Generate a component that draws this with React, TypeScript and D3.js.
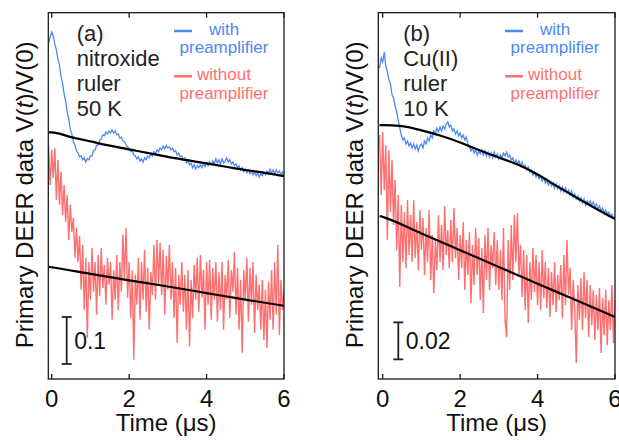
import React from 'react';
import * as d3 from 'd3';

// ---------- data ----------
const T0 = -0.08;
const DT = 0.04;
const xTicks = [0, 2, 4, 6];

// Panel (a) nitroxide ruler, 50 K
const blueA = [
  0.985, 0.998, 1.009, 1.000, 0.983, 0.971, 0.951, 0.939, 0.915, 0.900,
  0.877, 0.862, 0.839, 0.824, 0.802, 0.792, 0.775, 0.768, 0.756, 0.751,
  0.743, 0.745, 0.737, 0.741, 0.732, 0.739, 0.737, 0.745, 0.745, 0.756,
  0.758, 0.768, 0.768, 0.779, 0.781, 0.790, 0.788, 0.796, 0.792, 0.798,
  0.794, 0.800, 0.794, 0.798, 0.790, 0.792, 0.783, 0.785, 0.777, 0.775,
  0.768, 0.764, 0.760, 0.754, 0.756, 0.747, 0.745, 0.739, 0.743, 0.734,
  0.739, 0.732, 0.741, 0.737, 0.745, 0.741, 0.749, 0.745, 0.754, 0.749,
  0.758, 0.754, 0.762, 0.758, 0.766, 0.760, 0.768, 0.762, 0.764, 0.758,
  0.762, 0.754, 0.756, 0.747, 0.751, 0.743, 0.745, 0.737, 0.741, 0.730,
  0.734, 0.726, 0.730, 0.720, 0.726, 0.717, 0.724, 0.720, 0.726, 0.720,
  0.728, 0.722, 0.730, 0.724, 0.732, 0.726, 0.734, 0.728, 0.739, 0.730,
  0.737, 0.728, 0.739, 0.730, 0.734, 0.741, 0.732, 0.737, 0.728, 0.732,
  0.724, 0.728, 0.720, 0.724, 0.715, 0.720, 0.711, 0.717, 0.709, 0.715,
  0.707, 0.713, 0.705, 0.711, 0.703, 0.709, 0.700, 0.707, 0.703, 0.711,
  0.705, 0.713, 0.707, 0.717, 0.709, 0.715, 0.707, 0.715, 0.709, 0.713,
  0.705, 0.711, 0.703,
];
const redA = [
  0.768, 0.683, 0.758, 0.698, 0.762, 0.651, 0.737, 0.641, 0.711, 0.619,
  0.683, 0.605, 0.662, 0.566, 0.641, 0.583, 0.613, 0.528, 0.592, 0.519,
  0.575, 0.460, 0.556, 0.417, 0.528, 0.358, 0.519, 0.439, 0.549, 0.456,
  0.519, 0.407, 0.534, 0.447, 0.549, 0.464, 0.513, 0.428, 0.528, 0.471,
  0.519, 0.396, 0.502, 0.439, 0.534, 0.417, 0.519, 0.456, 0.577, 0.481,
  0.592, 0.443, 0.519, 0.400, 0.502, 0.311, 0.492, 0.428, 0.528, 0.396,
  0.519, 0.439, 0.545, 0.413, 0.507, 0.375, 0.498, 0.449, 0.556, 0.439,
  0.566, 0.471, 0.560, 0.449, 0.545, 0.407, 0.532, 0.460, 0.556, 0.439,
  0.519, 0.400, 0.507, 0.347, 0.492, 0.428, 0.519, 0.413, 0.492, 0.375,
  0.502, 0.339, 0.481, 0.400, 0.513, 0.439, 0.528, 0.413, 0.534, 0.443,
  0.502, 0.375, 0.519, 0.428, 0.524, 0.396, 0.507, 0.439, 0.519, 0.392,
  0.498, 0.417, 0.519, 0.375, 0.492, 0.439, 0.524, 0.400, 0.502, 0.456,
  0.541, 0.407, 0.507, 0.375, 0.481, 0.326, 0.502, 0.439, 0.528, 0.392,
  0.507, 0.428, 0.519, 0.368, 0.492, 0.417, 0.471, 0.375, 0.481, 0.353,
  0.460, 0.336, 0.477, 0.396, 0.502, 0.375, 0.519, 0.407, 0.556, 0.364,
  0.481, 0.417, 0.460,
];
const fitABlueT = [-0.08, 0, 0.5, 1, 1.5, 2, 2.5, 3, 3.5, 4, 4.5, 5, 5.5, 6];
const fitABlue = [0.795, 0.795, 0.785, 0.776, 0.767, 0.759, 0.751, 0.743, 0.736, 0.729, 0.722, 0.715, 0.709, 0.702];
const fitARedT = [-0.08, 0, 1, 2, 3, 4, 5, 6];
const fitARed = [0.509, 0.508, 0.494, 0.480, 0.467, 0.453, 0.439, 0.426];

// Panel (b) Cu(II) ruler, 10 K
const blueB = [
  0.9967, 1.0022, 1.0000, 1.0054, 0.9978, 0.9946, 0.9903, 0.9881, 0.9822, 0.9805,
  0.9762, 0.9730, 0.9686, 0.9643, 0.9605, 0.9578, 0.9589, 0.9557, 0.9573, 0.9546,
  0.9562, 0.9535, 0.9557, 0.9530, 0.9551, 0.9519, 0.9546, 0.9557, 0.9535, 0.9573,
  0.9557, 0.9589, 0.9573, 0.9605, 0.9589, 0.9627, 0.9611, 0.9643, 0.9622, 0.9649,
  0.9627, 0.9654, 0.9638, 0.9665, 0.9676, 0.9649, 0.9659, 0.9627, 0.9638, 0.9611,
  0.9627, 0.9600, 0.9616, 0.9589, 0.9605, 0.9578, 0.9595, 0.9557, 0.9546, 0.9519,
  0.9535, 0.9508, 0.9524, 0.9497, 0.9519, 0.9503, 0.9524, 0.9497, 0.9519, 0.9492,
  0.9513, 0.9486, 0.9508, 0.9481, 0.9513, 0.9486, 0.9503, 0.9476, 0.9497, 0.9481,
  0.9508, 0.9492, 0.9513, 0.9486, 0.9497, 0.9470, 0.9481, 0.9454, 0.9470, 0.9449,
  0.9465, 0.9438, 0.9459, 0.9432, 0.9443, 0.9416, 0.9432, 0.9405, 0.9416, 0.9389,
  0.9405, 0.9378, 0.9395, 0.9368, 0.9384, 0.9357, 0.9373, 0.9346, 0.9362, 0.9335,
  0.9351, 0.9330, 0.9346, 0.9319, 0.9341, 0.9314, 0.9330, 0.9303, 0.9324, 0.9297,
  0.9319, 0.9292, 0.9308, 0.9281, 0.9303, 0.9270, 0.9287, 0.9259, 0.9276, 0.9249,
  0.9265, 0.9238, 0.9259, 0.9227, 0.9249, 0.9232, 0.9249, 0.9227, 0.9243, 0.9216,
  0.9232, 0.9205, 0.9222, 0.9195, 0.9211, 0.9184, 0.9200, 0.9178, 0.9189, 0.9168,
  0.9178, 0.9157, 0.9162,
];
const redB = [
  0.9605, 0.9281, 0.9622, 0.9308, 0.9551, 0.9038, 0.9524, 0.9189, 0.9470, 0.9119,
  0.9362, 0.8984, 0.9281, 0.8784, 0.9227, 0.8919, 0.9189, 0.8886, 0.9254, 0.8957,
  0.9173, 0.8919, 0.9254, 0.8941, 0.9135, 0.8876, 0.9200, 0.8984, 0.9157, 0.8849,
  0.9103, 0.8919, 0.9200, 0.8822, 0.9065, 0.8751, 0.9038, 0.8876, 0.9173, 0.8919,
  0.9119, 0.8876, 0.9222, 0.8957, 0.9092, 0.8886, 0.9146, 0.8919, 0.9211, 0.8941,
  0.9103, 0.8822, 0.9065, 0.8886, 0.9135, 0.8768, 0.9038, 0.8849, 0.9081, 0.8697,
  0.9011, 0.8795, 0.9103, 0.8849, 0.9049, 0.8713, 0.8995, 0.8643, 0.9065, 0.8822,
  0.9103, 0.8768, 0.9011, 0.8886, 0.9081, 0.8795, 0.9038, 0.8768, 0.8984, 0.8713,
  0.9103, 0.8605, 0.8513, 0.9038, 0.8768, 0.9119, 0.8822, 0.9173, 0.8919, 0.9184,
  0.8849, 0.9011, 0.8730, 0.8984, 0.8659, 0.8957, 0.8589, 0.8919, 0.8713, 0.8995,
  0.8757, 0.8957, 0.8686, 0.8919, 0.8659, 0.8984, 0.8724, 0.8919, 0.8670, 0.8886,
  0.8622, 0.8865, 0.8686, 0.8919, 0.8649, 0.8849, 0.8713, 0.8903, 0.8616, 0.8957,
  0.8686, 0.9038, 0.8741, 0.8886, 0.8551, 0.8822, 0.8659, 0.8373, 0.8795, 0.8605,
  0.8832, 0.8551, 0.8865, 0.8616, 0.8822, 0.8513, 0.8795, 0.8578, 0.8768, 0.8497,
  0.8741, 0.8551, 0.8778, 0.8427, 0.8724, 0.8524, 0.8768, 0.8470, 0.8713, 0.8551,
  0.8795, 0.8481, 0.8713,
];
const fitBBlueT = [-0.08, 0, 0.5, 1, 1.5, 2, 2.5, 3, 3.5, 4, 4.5, 5, 5.5, 6];
const fitBBlue = [0.9659, 0.9659, 0.9653, 0.9630, 0.9601, 0.9565, 0.9523, 0.9484, 0.9444, 0.9392, 0.9329, 0.9268, 0.9208, 0.9151];
const fitBRedT = [-0.08, 0, 1, 2, 3, 4, 5, 6];
const fitBRed = [0.9168, 0.9163, 0.9073, 0.8983, 0.8892, 0.8802, 0.8712, 0.8622];

const labelsA = ['(a)', 'nitroxide', 'ruler', '50 K'];
const labelsB = ['(b)', 'Cu(II)', 'ruler', '10 K'];
const scaleA = { base: 0.302, size: 0.1, label: '0.1' };
const scaleB = { base: 0.8393, size: 0.02, label: '0.02' };

// ---------- styles ----------
const BLUE = '#4f88f2';
const RED = '#ff6f6f';
const FONT = '"Liberation Sans", Arial, Helvetica, sans-serif';

type PanelProps = {
  id: string;
  left: number; right: number; top: number; bottom: number;
  xDomain: [number, number]; yDomain: [number, number];
  blue: number[]; red: number[];
  fitBlueT: number[]; fitBlue: number[]; fitRedT: number[]; fitRed: number[];
  labels: string[]; labelX: number;
  legendX: number; legendLineX: number;
  yLabelX: number;
  scale: { base: number; size: number; label: string }; scaleX: number;
};

function Panel(p: PanelProps) {
  const x = d3.scaleLinear().domain(p.xDomain).range([p.left, p.right]);
  const y = d3.scaleLinear().domain(p.yDomain).range([p.bottom, p.top]);
  const tr = (vals: number[]) => vals.map((v, i) => [T0 + i * DT, v] as [number, number]);
  const line = d3.line<[number, number]>().x(d => x(d[0])).y(d => y(d[1]));
  const smooth = d3.line<[number, number]>().x(d => x(d[0])).y(d => y(d[1])).curve(d3.curveMonotoneX);
  const fitB = p.fitBlueT.map((t, i) => [t, p.fitBlue[i]] as [number, number]);
  const fitR = p.fitRedT.map((t, i) => [t, p.fitRed[i]] as [number, number]);
  const sbTop = y(p.scale.base + p.scale.size);
  const sbBot = y(p.scale.base);
  const midY = (p.top + p.bottom) / 2 - 1;
  return (
    <g>
      <defs>
        <clipPath id={`clip-${p.id}`}>
          <rect x={p.left} y={p.top} width={p.right - p.left} height={p.bottom - p.top} />
        </clipPath>
      </defs>
      <g clipPath={`url(#clip-${p.id})`}>
        <path d={line(tr(p.red)) || ''} fill="none" stroke={RED} strokeWidth={1.4} />
        <path d={line(tr(p.blue)) || ''} fill="none" stroke={BLUE} strokeWidth={1.3} />
        <path d={smooth(fitR) || ''} fill="none" stroke="#000" strokeWidth={2.2} />
        <path d={smooth(fitB) || ''} fill="none" stroke="#000" strokeWidth={2.2} />
      </g>
      <rect x={p.left} y={p.top} width={p.right - p.left} height={p.bottom - p.top}
        fill="none" stroke="#1a1a1a" strokeWidth={1.3} />
      {xTicks.map(t => (
        <g key={t}>
          <line x1={x(t)} x2={x(t)} y1={p.bottom} y2={p.bottom - 5} stroke="#1a1a1a" strokeWidth={1.3} />
          <line x1={x(t)} x2={x(t)} y1={p.top} y2={p.top + 5} stroke="#1a1a1a" strokeWidth={1.3} />
          <text x={x(t)} y={406.5} textAnchor="middle" fontSize={24} fontFamily={FONT} fill="#111">{t}</text>
        </g>
      ))}
      <text x={(p.left + p.right) / 2} y={431} textAnchor="middle" fontSize={24} fontFamily={FONT} fill="#111">Time (μs)</text>
      <text transform={`translate(${p.yLabelX},${midY}) rotate(-90)`} textAnchor="middle" fontSize={24} fontFamily={FONT} fill="#111">
        Primary DEER data V(<tspan fontStyle="italic">t</tspan>)/V(0)
      </text>
      {p.labels.map((s, i) => (
        <text key={s} x={p.labelX} y={40.5 + i * 25.3} fontSize={22} fontFamily={FONT} fill="#222">{s}</text>
      ))}
      <line x1={p.legendLineX} x2={p.legendLineX + 18} y1={31} y2={31} stroke={BLUE} strokeWidth={2.5} />
      <text x={p.legendX} y={35} textAnchor="middle" fontSize={17} fontFamily={FONT} fill={BLUE}>with</text>
      <text x={p.legendX} y={53.3} textAnchor="middle" fontSize={17} fontFamily={FONT} fill={BLUE}>preamplifier</text>
      <line x1={p.legendLineX} x2={p.legendLineX + 18} y1={76.3} y2={76.3} stroke={RED} strokeWidth={2.5} />
      <text x={p.legendX} y={80} textAnchor="middle" fontSize={17} fontFamily={FONT} fill={RED}>without</text>
      <text x={p.legendX} y={98.5} textAnchor="middle" fontSize={17} fontFamily={FONT} fill={RED}>preamplifier</text>
      <g stroke="#222" strokeWidth={1.8}>
        <line x1={p.scaleX} x2={p.scaleX} y1={sbTop} y2={sbBot} />
        <line x1={p.scaleX - 5} x2={p.scaleX + 5} y1={sbTop} y2={sbTop} />
        <line x1={p.scaleX - 5} x2={p.scaleX + 5} y1={sbBot} y2={sbBot} />
      </g>
      <text x={p.scaleX + 7.5} y={(sbTop + sbBot) / 2 + 8.5} fontSize={23} fontFamily={FONT} fill="#111">{p.scale.label}</text>
    </g>
  );
}

export default function App() {
  return (
    <svg width={619} height={440} style={{ position: 'absolute', left: 0, top: 0, background: '#fff' }}>
      <rect width={619} height={440} fill="#fff" />
      <Panel id="a" left={48.3} right={284} top={12.7} bottom={379}
        xDomain={[-0.088, 6]} yDomain={[0.27, 1.05]}
        blue={blueA} red={redA}
        fitBlueT={fitABlueT} fitBlue={fitABlue} fitRedT={fitARedT} fitRed={fitARed}
        labels={labelsA} labelX={76.7} legendX={224} legendLineX={174}
        yLabelX={33} scale={scaleA} scaleX={66.7} />
      <Panel id="b" left={378.3} right={615} top={12.7} bottom={379}
        xDomain={[-0.114, 6]} yDomain={[0.8287, 1.0266]}
        blue={blueB} red={redB}
        fitBlueT={fitBBlueT} fitBlue={fitBBlue} fitRedT={fitBRedT} fitRed={fitBRed}
        labels={labelsB} labelX={403.3} legendX={555} legendLineX={505}
        yLabelX={363} scale={scaleB} scaleX={398.3} />
    </svg>
  );
}
